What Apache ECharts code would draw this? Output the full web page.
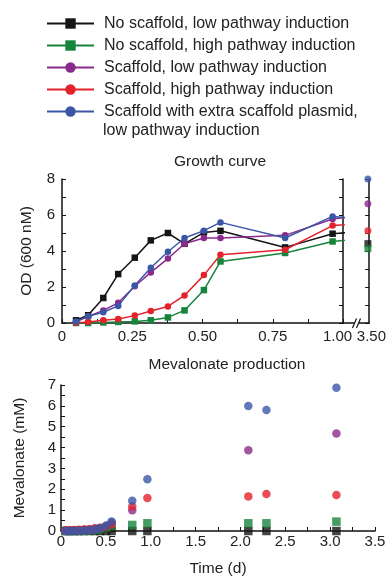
<!DOCTYPE html>
<html>
<head>
<meta charset="utf-8">
<script src="https://cdn.jsdelivr.net/npm/echarts@6/dist/echarts.min.js"></script>
<style>
  html, body { margin: 0; padding: 0; background: #fff; }
  #chart { width: 389px; height: 578px; }
</style>
</head>
<body>
<div id="chart"></div>
<script>
const names = [
  'No scaffold, low pathway induction',
  'No scaffold, high pathway induction',
  'Scaffold, low pathway induction',
  'Scaffold, high pathway induction',
  'Scaffold with extra scaffold plasmid, low pathway induction'
]
const colors = ['#151515', '#17843c', '#8a2a8c', '#e3222b', '#3a57a7']
const symbols = ['rect', 'rect', 'circle', 'circle', 'circle']

// growth curve, OD vs time (d); last point sits past the 1.00 edge and is clipped
const odTime = [0.05, 0.093, 0.147, 0.2, 0.259, 0.316, 0.377, 0.436, 0.505, 0.564, 0.794, 0.963, 1.08]
const odBlack = [0.15, 0.43, 1.39, 2.72, 3.63, 4.59, 5.0, 4.4, 5.03, 5.12, 4.2, 4.96, 5.1]
const odGreen = [0.0, 0.0, 0.03, 0.06, 0.09, 0.15, 0.31, 0.7, 1.83, 3.42, 3.89, 4.53, 4.7]
const odPurple = [0.06, 0.37, 0.7, 1.12, 2.04, 2.81, 3.58, 4.4, 4.72, 4.72, 4.87, 5.78, 6.0]
const odRed = [0.02, 0.06, 0.15, 0.22, 0.41, 0.67, 0.92, 1.53, 2.66, 3.79, 4.07, 5.41, 5.55]
const odBlue = [0.09, 0.37, 0.6, 0.95, 2.09, 3.07, 3.96, 4.72, 5.13, 5.59, 4.72, 5.92, 5.78]

// OD at the broken-axis point
const lateTime = 3.5
const odLate = [4.41, 4.13, 6.63, 5.13, 8.0]

// mevalonate production (mM)
const mevTime = [0.05, 0.093, 0.147, 0.2, 0.259, 0.316, 0.377, 0.436, 0.505, 0.564, 0.794, 0.963, 2.088, 2.29, 3.07]
const mevBlack = [0, 0, 0, 0, 0, 0, 0, 0, 0, 0, 0, 0, 0, 0, 0]
const mevGreen = [0, 0, 0, 0, 0.01, 0.02, 0.05, 0.1, 0.17, 0.25, 0.29, 0.37, 0.37, 0.37, 0.45]
const mevPurple = [0.01, 0.01, 0.01, 0.02, 0.03, 0.05, 0.08, 0.13, 0.24, 0.4, 1.0, null, 3.87, null, 4.68]
const mevRed = [0.03, 0.04, 0.05, 0.06, 0.08, 0.1, 0.13, 0.16, 0.22, 0.32, 1.17, 1.58, 1.66, 1.77, 1.73]
const mevBlue = [0.0, 0.0, 0.01, 0.02, 0.03, 0.05, 0.08, 0.14, 0.26, 0.46, 1.45, 2.48, 5.99, 5.8, 6.87]

const odSets = [odBlack, odGreen, odPurple, odRed, odBlue]
const mevSets = [mevBlack, mevGreen, mevPurple, mevRed, mevBlue]

const textColor = '#222'
const font = 'Liberation Sans, Arial, Helvetica, sans-serif'

const chart = echarts.init(document.getElementById('chart'))

const axisLine = { show: true, lineStyle: { color: '#111', width: 1.5 } }
const axisTick = { show: true, inside: true, length: 4, lineStyle: { color: '#111', width: 1 } }

const series = []
names.forEach((name, i) => {
  series.push({
    name: name,
    type: 'line',
    xAxisIndex: 0,
    yAxisIndex: 0,
    data: odTime.map((t, j) => [t, odSets[i][j]]),
    symbol: symbols[i],
    symbolSize: 6.5,
    showAllSymbol: true,
    clip: true,
    color: colors[i],
    lineStyle: { width: 1.5 },
    z: 2 + i
  })
})
names.forEach((name, i) => {
  series.push({
    name: name,
    type: 'scatter',
    xAxisIndex: 1,
    yAxisIndex: 2,
    data: [[lateTime, odLate[i]]],
    symbol: symbols[i],
    symbolSize: 7,
    color: colors[i],
    z: 2 + i
  })
})
names.forEach((name, i) => {
  series.push({
    name: name,
    type: 'scatter',
    xAxisIndex: 2,
    yAxisIndex: 3,
    data: mevTime.map((t, j) => [t, mevSets[i][j]]).filter(d => d[1] !== null),
    symbol: symbols[i],
    symbolSize: 8.5,
    clip: false,
    color: colors[i],
    z: 2 + i
  })
})

const option = {
  animation: false,
  textStyle: { fontFamily: font, color: textColor },
  legend: {
    orient: 'vertical',
    left: 41,
    top: 10.5,
    itemWidth: 47,
    itemHeight: 13,
    itemGap: 6,
    selectedMode: false,
    data: names,
    formatter: function (name) {
      return name === names[4] ? 'Scaffold with extra scaffold plasmid,' : name
    },
    textStyle: { fontSize: 16, color: textColor, fontFamily: font, padding: [0, 0, 0, 5] }
  },
  graphic: [
    { type: 'text', x: 103, y: 131, style: { text: 'low pathway induction', font: '16px ' + font, fill: textColor, verticalAlign: 'middle' } },
    { type: 'text', x: 220, y: 162, style: { text: 'Growth curve', font: '15.5px ' + font, fill: textColor, align: 'center', verticalAlign: 'middle' } },
    { type: 'text', x: 227, y: 365, style: { text: 'Mevalonate production', font: '15.5px ' + font, fill: textColor, align: 'center', verticalAlign: 'middle' } },
    // axis break
    { type: 'rect', shape: { x: 354, y: 320, width: 5, height: 7 }, style: { fill: '#fff' }, z: 100 },
    { type: 'line', shape: { x1: 352.5, y1: 328, x2: 356.5, y2: 318.5 }, style: { stroke: '#111', lineWidth: 1.2 }, z: 101 },
    { type: 'line', shape: { x1: 356.5, y1: 328, x2: 360.5, y2: 318.5 }, style: { stroke: '#111', lineWidth: 1.2 }, z: 101 }
  ],
  grid: [
    { left: 62, top: 179, width: 281, height: 144 },
    { left: 343, top: 179, width: 28, height: 144 },
    { left: 61, top: 385, width: 314, height: 146 }
  ],
  xAxis: [
    {
      type: 'value', gridIndex: 0, min: 0, max: 1, interval: 0.125,
      axisLine: axisLine, axisTick: axisTick, splitLine: { show: false },
      axisLabel: {
        fontSize: 15, color: textColor, margin: 6,
        formatter: function (v) {
          if (Math.abs(v * 4 - Math.round(v * 4)) > 1e-6) return ''
          if (v === 0) return '0'
          if (v === 1) return '{r|1.00}'
          return v.toFixed(2)
        },
        rich: { r: { fontSize: 15, color: textColor, padding: [0, 11, 0, 0] } }
      }
    },
    {
      type: 'value', gridIndex: 1, min: 3.3, max: 3.51,
      axisLine: axisLine, axisTick: { show: false }, splitLine: { show: false },
      axisLabel: {
        fontSize: 15, color: textColor, margin: 6, customValues: [3.5],
        formatter: function () { return '{r|3.50}' },
        rich: { r: { fontSize: 15, color: textColor, padding: [0, 0, 0, 7] } }
      }
    },
    {
      type: 'value', gridIndex: 2, min: 0, max: 3.5, interval: 0.25,
      name: 'Time (d)', nameLocation: 'middle', nameGap: 30,
      nameTextStyle: { fontSize: 15.5, color: textColor },
      axisLine: axisLine, axisTick: axisTick, splitLine: { show: false },
      axisLabel: {
        fontSize: 15, color: textColor, margin: 3,
        formatter: function (v) {
          if (Math.abs(v * 2 - Math.round(v * 2)) > 1e-6) return ''
          return v === 0 ? '0' : v.toFixed(1)
        }
      }
    }
  ],
  yAxis: [
    {
      type: 'value', gridIndex: 0, min: 0, max: 8, interval: 1,
      name: 'OD (600 nM)', nameLocation: 'middle', nameGap: 27,
      nameTextStyle: { fontSize: 15.5, color: textColor },
      axisLine: axisLine, axisTick: axisTick, splitLine: { show: false },
      axisLabel: {
        fontSize: 15, color: textColor, margin: 7,
        formatter: function (v) { return v % 2 === 0 ? String(v) : '' }
      }
    },
    {
      type: 'value', gridIndex: 0, position: 'right', min: 0, max: 8, interval: 1,
      axisLine: axisLine, axisTick: axisTick, splitLine: { show: false },
      axisLabel: { show: false }
    },
    {
      type: 'value', gridIndex: 1, position: 'right', min: 0, max: 8, interval: 1,
      axisLine: axisLine, axisTick: axisTick, splitLine: { show: false },
      axisLabel: { show: false }
    },
    {
      type: 'value', gridIndex: 2, min: 0, max: 7, interval: 0.5,
      name: 'Mevalonate (mM)', nameLocation: 'middle', nameGap: 33,
      nameTextStyle: { fontSize: 15.5, color: textColor },
      axisLine: axisLine, axisTick: axisTick, splitLine: { show: false },
      axisLabel: {
        fontSize: 15, color: textColor, margin: 5,
        formatter: function (v) { return Number.isInteger(v) ? String(v) : '' }
      }
    }
  ],
  series: series
}

chart.setOption(option)
window.addEventListener('resize', () => {
  chart.resize()
})
</script>
</body>
</html>
